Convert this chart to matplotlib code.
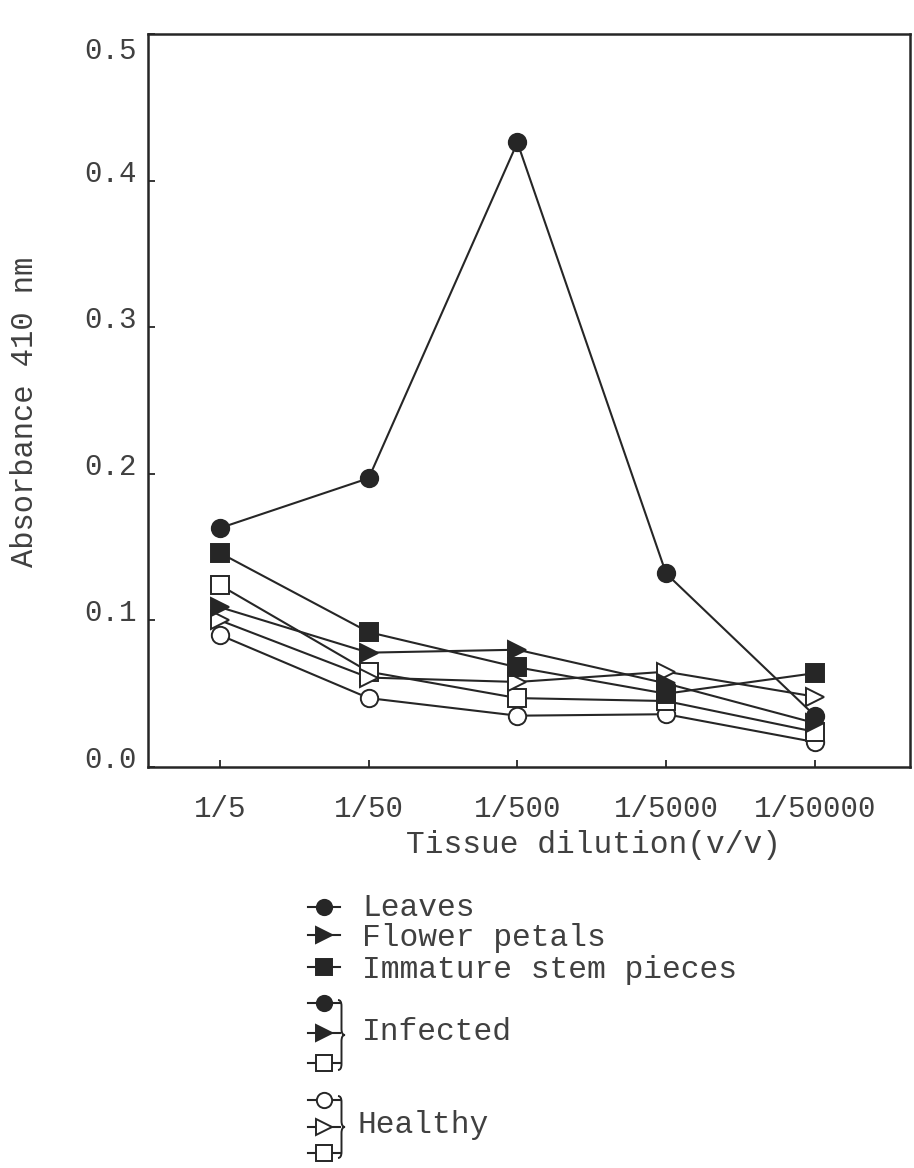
import matplotlib
matplotlib.use("Agg")
import matplotlib.pyplot as plt
import matplotlib.transforms as mtrans
from matplotlib.path import Path
from matplotlib.patches import PathPatch
import numpy as np

# dilution steps and absorbance readings (410 nm)
dilutions = ['1/5', '1/50', '1/500', '1/5000', '1/50000']
inf_leaves = [0.163, 0.197, 0.426, 0.132, 0.035]
inf_petals = [0.109, 0.078, 0.080, 0.057, 0.030]
inf_stem = [0.146, 0.092, 0.068, 0.050, 0.064]
hea_leaves = [0.090, 0.047, 0.035, 0.036, 0.017]
hea_petals = [0.100, 0.061, 0.058, 0.065, 0.048]
hea_stem = [0.124, 0.065, 0.047, 0.045, 0.024]
yticks = [0.0, 0.1, 0.2, 0.3, 0.4, 0.5]

ink = '#262626'
txt = '#404040'
mono = ['Liberation Mono', 'DejaVu Sans Mono']

fig = plt.figure(figsize=(9.14, 11.68), dpi=100)
ax = fig.add_axes([148/914, 1 - 767/1168, 762/914, 733/1168])

x = np.arange(len(dilutions))
series = [
    (hea_leaves, 'o', 'white'),
    (hea_stem, 's', 'white'),
    (hea_petals, '>', 'white'),
    (inf_petals, '>', ink),
    (inf_stem, 's', ink),
    (inf_leaves, 'o', ink),
]
for vals, mk, fc in series:
    ax.plot(x, vals, color=ink, lw=1.5, marker=mk, ms=12.5,
            markerfacecolor=fc, markeredgecolor=ink, markeredgewidth=1.4)

ax.set_xlim(-0.484, 4.64)
ax.set_ylim(0, 0.5)
ax.set_xticks(x)
ax.set_xticklabels(dilutions)
ax.set_yticks(yticks)
ax.set_yticklabels(['%.1f' % v for v in yticks])
ax.tick_params(axis='both', direction='in', length=5, width=1.3, color=ink,
               labelcolor=txt, labelsize=21)
ax.tick_params(axis='x', pad=20)
ax.tick_params(axis='y', pad=8)
for lab in ax.get_xticklabels() + ax.get_yticklabels():
    lab.set_family(mono)
# y labels sit a little above their ticks in the original (top one below)
up = mtrans.ScaledTranslation(0, 10/100, fig.dpi_scale_trans)
down = mtrans.ScaledTranslation(0, -14/100, fig.dpi_scale_trans)
for lab, v in zip(ax.get_yticklabels(), yticks):
    lab.set_transform(lab.get_transform() + (down if v == 0.5 else up))

for s in ax.spines.values():
    s.set_color(ink)
    s.set_linewidth(1.8)

ax.set_xlabel('Tissue dilution(v/v)', family=mono, fontsize=22.5, color=txt)
ax.xaxis.set_label_coords(0.584, -0.086)
ax.set_ylabel('Absorbance 410 nm', family=mono, fontsize=22, color=txt)
ax.yaxis.set_label_coords(-0.142, 0.484)

# hand-made key below the chart, in pixel coordinates
lax = fig.add_axes([0, 0, 1, 1])
lax.set_xlim(0, 914)
lax.set_ylim(1168, 0)
lax.axis('off')


def key_mark(y, mk, fc):
    lax.plot([308, 340], [y, y], color=ink, lw=1.5)
    lax.plot([324], [y], marker=mk, ms=11, markerfacecolor=fc,
             markeredgecolor=ink, markeredgewidth=1.4, color=ink)


def brace(x0, ytop, ybot, w=3.5):
    ym = (ytop + ybot) / 2
    r = 6
    verts = [(x0, ytop), (x0 + w, ytop), (x0 + w, ytop + r),
             (x0 + w, ym - r),
             (x0 + w, ym), (x0 + 2*w, ym),
             (x0 + w, ym), (x0 + w, ym + r),
             (x0 + w, ybot - r),
             (x0 + w, ybot), (x0, ybot)]
    codes = [Path.MOVETO, Path.CURVE3, Path.CURVE3, Path.LINETO,
             Path.CURVE3, Path.CURVE3, Path.CURVE3, Path.CURVE3,
             Path.LINETO, Path.CURVE3, Path.CURVE3]
    lax.add_patch(PathPatch(Path(verts, codes), fill=False, edgecolor=ink, lw=1.4))


fs = 22.5
key_mark(907, 'o', ink)
key_mark(935, '>', ink)
key_mark(967, 's', ink)
lax.text(362, 908, 'Leaves', family=mono, fontsize=fs, color=txt, va='center')
lax.text(362, 938, 'Flower petals', family=mono, fontsize=fs, color=txt, va='center')
lax.text(362, 970, 'Immature stem pieces', family=mono, fontsize=fs, color=txt, va='center')

key_mark(1003, 'o', ink)
key_mark(1033, '>', ink)
key_mark(1063, 's', 'white')
brace(338, 1000, 1070)
lax.text(362, 1032, 'Infected', family=mono, fontsize=fs, color=txt, va='center')

key_mark(1100, 'o', 'white')
key_mark(1127, '>', 'white')
key_mark(1153, 's', 'white')
brace(338, 1096, 1158)
lax.text(358, 1125, 'Healthy', family=mono, fontsize=fs, color=txt, va='center')

fig.savefig('out.png', dpi=100, facecolor='white')
